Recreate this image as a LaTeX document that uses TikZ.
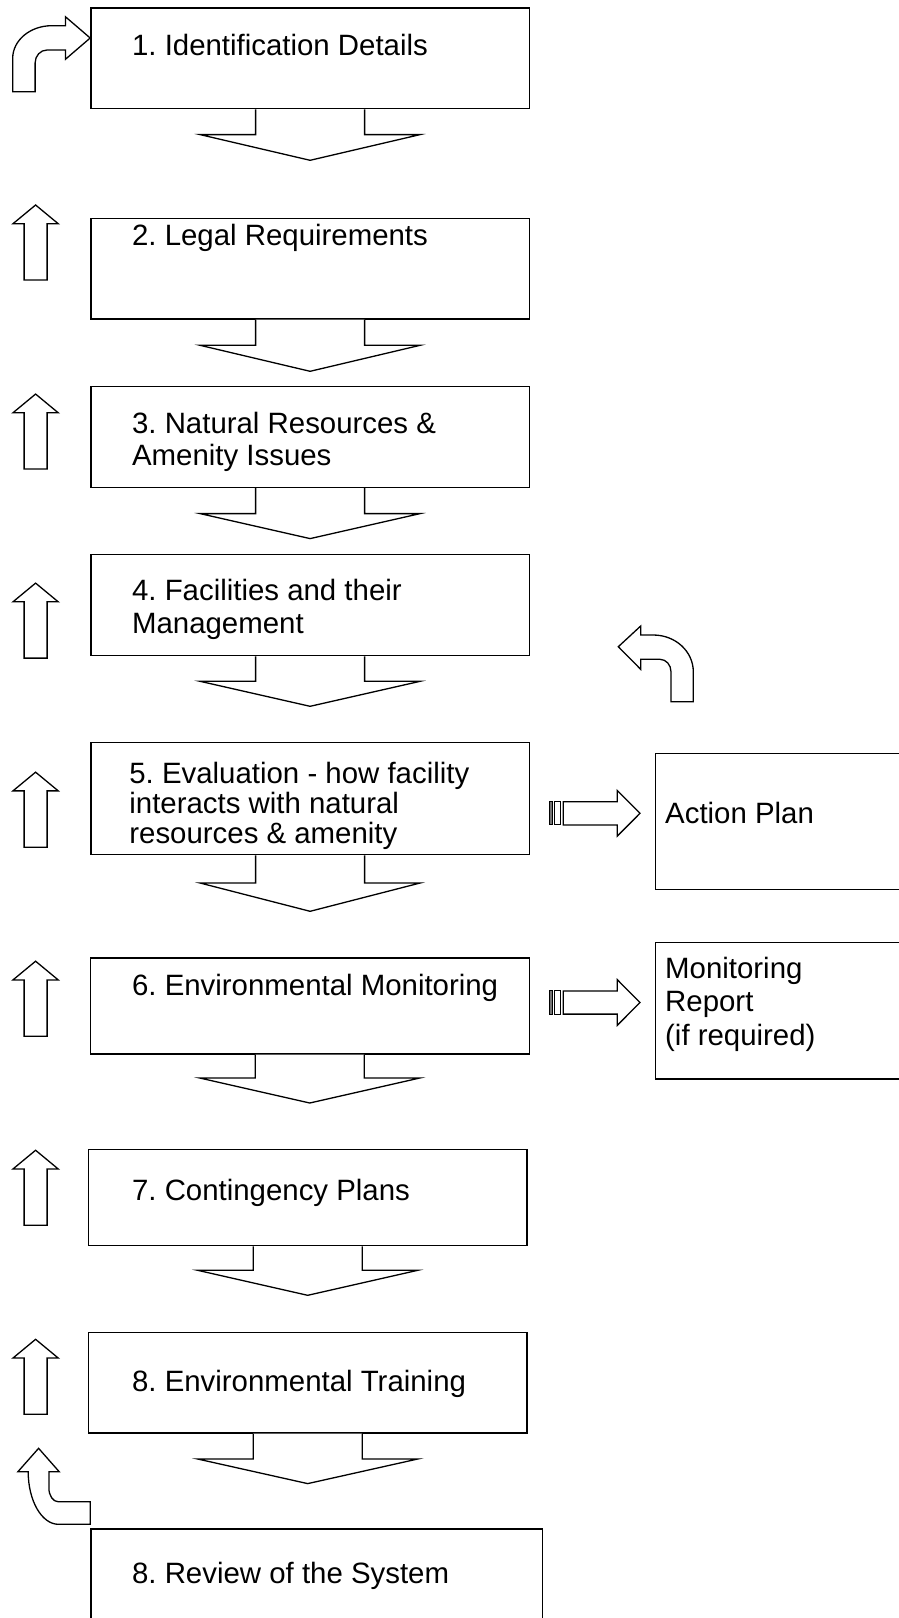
\documentclass[tikz,border=0pt]{standalone}
\usepackage{fontspec}
\setmainfont{Liberation Sans}
\frenchspacing
\tikzset{
	box/.style={draw, line width=1.3pt, rectangle, inner sep=0pt, anchor=north west},
	lbl/.style={anchor=base west, inner sep=0pt, align=left, font=\fontsize{29.4}{32.5}\selectfont},
	blockarrow/.style={draw, line width=1.3pt, fill=white, line join=miter},
	stripe/.style={draw, line width=1.1pt, fill=white},
}
\begin{document}
\begin{tikzpicture}[x=1pt, y=-1pt]
	\useasboundingbox (0,0) rectangle (899,1618);
	\clip (0,0) rectangle (899,1618);

	% main column
	\node[box, minimum width=438.5pt, minimum height=100.7pt] (b1) at (90.2,7.3) {};
	\node[box, minimum width=438.5pt, minimum height=100.6pt] (b2) at (90.2,217.7) {};
	\node[box, minimum width=438.5pt, minimum height=100.7pt] (b3) at (90.2,386) {};
	\node[box, minimum width=438.5pt, minimum height=101pt] (b4) at (90.2,554) {};
	\node[box, minimum width=438.5pt, minimum height=112.3pt] (b5) at (90.2,741.7) {};
	\node[box, minimum width=439.2pt, minimum height=96pt] (b6) at (89.5,957.3) {};
	\node[box, minimum width=438.5pt, minimum height=96pt] (b7) at (87.8,1149) {};
	\node[box, minimum width=438.5pt, minimum height=100.6pt] (b8) at (87.8,1331.7) {};
	\node[box, minimum width=451.5pt, minimum height=130pt] (br) at (90.2,1528.3) {};

	% labels (base = last line)
	\node[lbl] (t1) at (131.9,55) {1. Identification Details};
	\node[lbl] (t2) at (131.9,245) {2. Legal Requirements};
	\node[lbl] (t3) at (131.9,465.7) {3. Natural Resources \&\\Amenity Issues};
	\node[lbl] (t4) at (131.9,633.3) {4. Facilities and their\\Management};
	\node[lbl, font=\fontsize{29.4}{30}\selectfont] (t5) at (129.2,843.3) {5. Evaluation - how facility\\interacts with natural\\resources \& amenity};
	\node[lbl] (t6) at (131.9,995) {6. Environmental Monitoring};
	\node[lbl] (t7) at (131.9,1200) {7. Contingency Plans};
	\node[lbl] (t8) at (131.9,1391.7) {8. Environmental Training};
	\node[lbl] (tr) at (131.9,1583.3) {8. Review of the System};

	% side boxes
	\node[box, minimum width=260pt, minimum height=136.3pt] (ba) at (655,752.7) {};
	\node[box, minimum width=260pt, minimum height=136.6pt] (bm) at (655,941.7) {};
	\node[lbl] (ta) at (665,823.3) {Action Plan};
	\node[lbl, font=\fontsize{29.4}{33.4}\selectfont] (tm) at (665,1045) {Monitoring\\Report\\(if required)};

	% down arrows under the boxes
	\foreach \b/\s/\h in {b1/25.3/25.7, b2/25.7/26, b3/25.6/25, b4/25/25, b5/27.7/28.3, b6/23.4/25, b7/24/25, b8/25.4/24.6} {
		\begin{scope}[shift={(\b.south)}]
			\draw[blockarrow] (-54.5,0) -- (-54.5,\s) -- (-110,\s) -- (0,\s+\h) -- (110,\s) -- (54.5,\s) -- (54.5,0);
		\end{scope}
	}

	% up arrows on the left
	\foreach \k in {0,...,6} {
		\draw[blockarrow] (35.6,{205+189.05*\k}) -- ++(22.6,18.7) -- ++(-11.1,0) -- ++(0,56.3) -- ++(-23,0) -- ++(0,-56.3) -- ++(-11.1,0) -- cycle;
	}

	% bent arrows
	\draw[blockarrow] (12.7,91.7) -- (12.7,58.3) .. controls (12.7,40.3) and (30.2,25.7) .. (51.7,25.7) -- (65.4,25.7) -- (65.4,16.7) -- (90.2,38) -- (65.4,59.3) -- (65.4,50) -- (47,50) .. controls (40.4,50) and (35.1,55.8) .. (35.1,63) -- (35.1,91.7) -- cycle;
	\draw[blockarrow] (618.3,646.7) -- (640.7,626) -- (640.7,635) -- (653.3,635) .. controls (675.4,635) and (693.3,651.4) .. (693.3,671.7) -- (693.3,701.7) -- (671,701.7) -- (671,671.7) .. controls (671,664.9) and (666.1,659.3) .. (660,659.3) -- (640.7,659.3) -- (640.7,669.3) -- cycle;
	\draw[blockarrow] (38.6,1448.3) -- (59.2,1471.7) -- (48.9,1471.7) -- (48.9,1488) .. controls (48.9,1495.5) and (53,1501.7) .. (58,1501.7) -- (90.2,1501.7) -- (90.2,1524.3) -- (58.5,1524.3) .. controls (41.8,1524.3) and (28.2,1500.8) .. (28.2,1471.7) -- (17.9,1471.7) -- cycle;

	% striped arrows to the side boxes
	\foreach \y in {813.3,1002.5} {
		\begin{scope}[shift={(0,\y)}]
			\draw[stripe, fill=black!55] (549.3,-11.6) rectangle (552.7,11.6);
			\draw[stripe] (554.7,-11.6) rectangle (560.7,11.6);
			\draw[blockarrow] (563.3,-11.6) -- (617.3,-11.6) -- (617.3,-22.8) -- (640,0) -- (617.3,22.8) -- (617.3,11.6) -- (563.3,11.6) -- cycle;
		\end{scope}
	}
\end{tikzpicture}
\end{document}
